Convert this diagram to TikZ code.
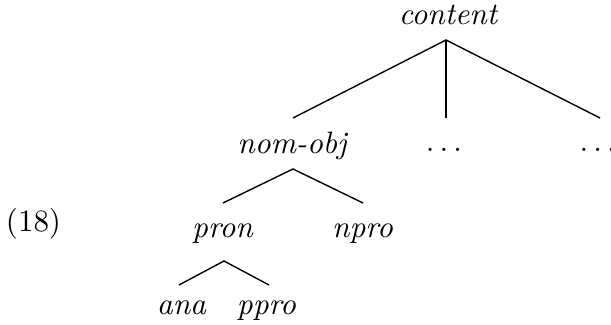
\documentclass[tikz,border=0pt]{standalone}
\begin{document}
\begin{tikzpicture}[x=0.3226pt,y=-0.3226pt,
  lbl/.style={inner sep=0pt,anchor=base,font=\itshape},
  br/.style={line width=0.45pt}]
\useasboundingbox (0,0) rectangle (611,325);
% nodes
\node[lbl] (content) at (448,25) {content};
\node[lbl] (nomobj) at (292,154) {nom-obj};
\node[lbl] (dotsA) at (444,152) {$\ldots$};
\node[lbl,anchor=base west] (dotsB) at (579,152) {$\ldots$};
\node[lbl] (pron) at (222.5,238) {pron};
\node[lbl] (npro) at (362.5,238) {npro};
\node[lbl] (ana) at (181.5,315) {ana};
\node[lbl] (ppro) at (266.5,315) {ppro};
\node[inner sep=0pt,anchor=base] (num) at (33.5,232) {(18)};
% branch points
\coordinate (cA) at (446,40);
\coordinate (c1) at (293,118);
\coordinate (c2) at (446,118);
\coordinate (c3) at (600,118);
\coordinate (nA) at (293,169);
\coordinate (n1) at (223,203);
\coordinate (n2) at (363,203);
\coordinate (pA) at (224,261);
\coordinate (p1) at (179,285);
\coordinate (p2) at (269,285);
\draw[br] (c1) -- (cA) -- (c3);
\draw[br] (cA) -- (c2);
\draw[br] (n1) -- (nA) -- (n2);
\draw[br] (p1) -- (pA) -- (p2);
\end{tikzpicture}
\end{document}
